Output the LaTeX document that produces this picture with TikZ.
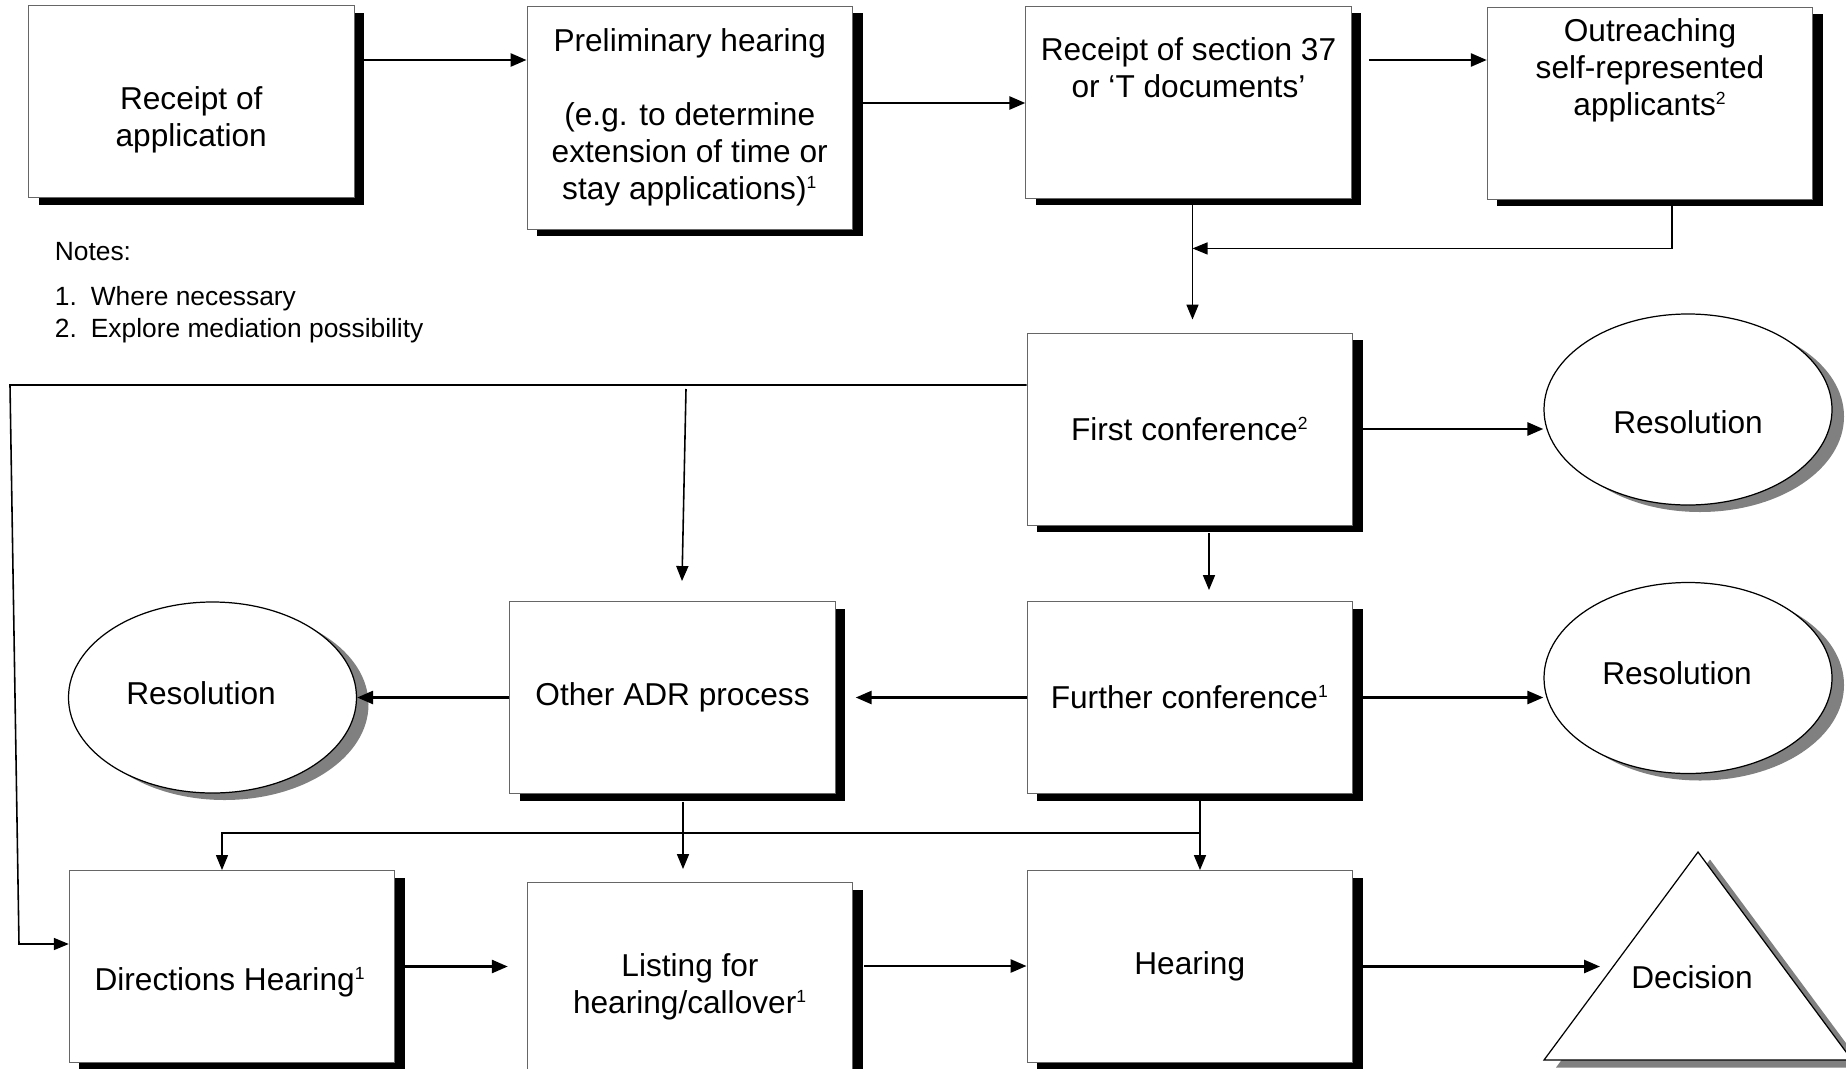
\documentclass[tikz,border=0pt]{standalone}
\usepackage{fontspec}
\setmainfont{Liberation Sans}
\usetikzlibrary{arrows.meta}
\usetikzlibrary{shapes.geometric}
\usetikzlibrary{shadows}
\newcommand{\notemark}[1]{\textsuperscript{\fontsize{10}{10}\selectfont #1}}

\begin{document}
\begin{tikzpicture}[font=\fontsize{18}{21}\selectfont,
		procbox/.style={rectangle,draw=black!60,line width=0.5pt,fill=white,minimum width=6.51cm,minimum height=3.84cm,inner sep=0pt,align=center,drop shadow={shadow xshift=0.2cm,shadow yshift=-0.14cm,fill=black,opacity=1}},
		endoval/.style={ellipse,draw=black,line width=0.7pt,fill=white,minimum width=5.76cm,minimum height=3.82cm,inner sep=0pt,drop shadow={shadow xshift=0.24cm,shadow yshift=-0.14cm,fill=black!50,opacity=1}},
		notetext/.style={anchor=base west,inner sep=0pt,font=\fontsize{15}{17.4}\selectfont},
		link/.style={line width=1.5pt,-{Triangle[length=0.32cm,width=0.26cm]}},
		thinlink/.style={line width=0.9pt,-{Triangle[length=0.3cm,width=0.24cm]}},
		every label/.append style={align=center}]
			\path[use as bounding box,fill=white] (0,0) rectangle (36.92,-21.36);

			\node[procbox,label={[yshift=-0.365cm]center:{Receipt of\\application}}] (app) at (3.825,-2.035) {};
			\node[procbox,minimum height=4.46cm] (prelim) at (13.795,-2.35) {Preliminary hearing\\[0.74cm](e.g. to determine\\extension of time or\\stay applications)\notemark{1}};
			\node[procbox,label={[yshift=0.69cm]center:{Receipt of section 37\\or ‘T documents’}}] (sec37) at (23.77,-2.04) {};
			\node[procbox,label={[yshift=0.65cm]center:{Outreaching\\self-represented\\applicants\notemark{2}}}] (outreach) at (33.0,-2.06) {};

			\node[notetext] (notes) at (1.09,-5.2) {Notes:};
			\node[notetext] (note1) at (1.09,-6.1) {\makebox[0.72cm][l]{1.}Where necessary};
			\node[notetext] (note2) at (1.09,-6.74) {\makebox[0.72cm][l]{2.}Explore mediation possibility};

			\node[procbox] (first) at (23.795,-8.58) {First conference\notemark{2}};
			\node[endoval,label={[yshift=-0.25cm]center:Resolution}] (resfirst) at (33.76,-8.19) {};

			\node[endoval,label={[xshift=-0.23cm,yshift=0.09cm]center:Resolution}] (resadr) at (4.25,-13.95) {};
			\node[procbox] (adr) at (13.45,-13.95) {Other ADR process};
			\node[procbox] (further) at (23.795,-13.95) {Further conference\notemark{1}};
			\node[endoval,label={[xshift=-0.22cm,yshift=0.1cm]center:Resolution}] (resfurther) at (33.76,-13.56) {};

			\node[procbox,label={[xshift=-0.04cm,yshift=-0.31cm]center:{Directions Hearing\notemark{1}}}] (directions) at (4.64,-19.33) {};
			\node[procbox,label={[yshift=-0.16cm]center:{Listing for\\hearing/callover\notemark{1}}}] (listing) at (13.8,-19.57) {};
			\node[procbox] (hearing) at (23.795,-19.33) {Hearing};

			\coordinate (dtop) at (33.96,-17.04);
			\coordinate (dleft) at (30.88,-21.2);
			\coordinate (dright) at (37.04,-21.2);
			\coordinate (dtip) at (32.0,-19.32);
			\fill[black!50] ([shift={(0.24,-0.15)}]dtop) -- ([shift={(0.24,-0.15)}]dright) -- ([shift={(0.24,-0.15)}]dleft) -- cycle;
			\draw[line width=0.7pt,fill=white] (dtop) -- (dright) -- (dleft) -- cycle;
			\node (decision) at (33.84,-19.54) {Decision};

			\draw[link] ([xshift=0.2cm,yshift=0.835cm]app.east) coordinate (c1) -- (c1 -| prelim.west);
			\draw[link] ([xshift=0.21cm,yshift=0.29cm]prelim.east) coordinate (c2) -- (c2 -| sec37.west);
			\draw[link] ([xshift=0.35cm,yshift=0.84cm]sec37.east) coordinate (c3) -- (c3 -| outreach.west);
			\draw[thinlink,shorten >=0.26cm] ([xshift=0.08cm,yshift=-0.12cm]sec37.south) coordinate (c4) -- (c4 |- first.north);
			\draw[thinlink,line width=0.7pt] ([xshift=0.44cm,yshift=-0.12cm]outreach.south) -- ++(0,-0.86) coordinate (c5) -- (c5 -| c4);

			\draw[link] ([xshift=0.2cm]first.east) coordinate (c6) -- (c6 -| resfirst.west);
			\draw[thinlink,shorten >=0.22cm] ([xshift=0.385cm,yshift=-0.16cm]first.south) coordinate (c7) -- (c7 |- further.north);
			\draw[link] ([xshift=0.2cm]further.east) coordinate (c8) -- (c8 -| resfurther.west);
			\draw[link] (further.west) -- ([xshift=0.4cm]adr.east);
			\draw[link] (adr.west) -- (resadr.east);

			\coordinate (ltop) at (0.2,-7.7);
			\coordinate (lbot) at (0.38,-18.88);
			\draw[thinlink] ([yshift=0.88cm]first.west) -- (ltop) -- (lbot) -- (lbot -| directions.west);
			\draw[thinlink] ([xshift=0.27cm,yshift=-0.08cm]adr.north |- ltop) -- ([xshift=0.19cm,yshift=0.4cm]adr.north);

			\draw[thinlink,shorten >=0.26cm] ([xshift=0.21cm,yshift=-0.16cm]adr.south) coordinate (c13) -- (c13 |- listing.north);
			\draw[thinlink] ([xshift=0.205cm]further.south) coordinate (c14) -- (c14 |- hearing.north);
			\draw[thinlink,line width=0.7pt] ([yshift=-0.78cm]c14) -| ([xshift=-0.2cm]directions.north);

			\draw[link,shorten >=0.38cm] ([xshift=0.2cm]directions.east) coordinate (c16) -- (c16 -| listing.west);
			\draw[link] ([xshift=0.22cm,yshift=0.25cm]listing.east) coordinate (c17) -- (c17 -| hearing.west);
			\draw[link] ([xshift=0.2cm]hearing.east) coordinate (c18) -- (c18 -| dtip);
		\end{tikzpicture}
\end{document}
